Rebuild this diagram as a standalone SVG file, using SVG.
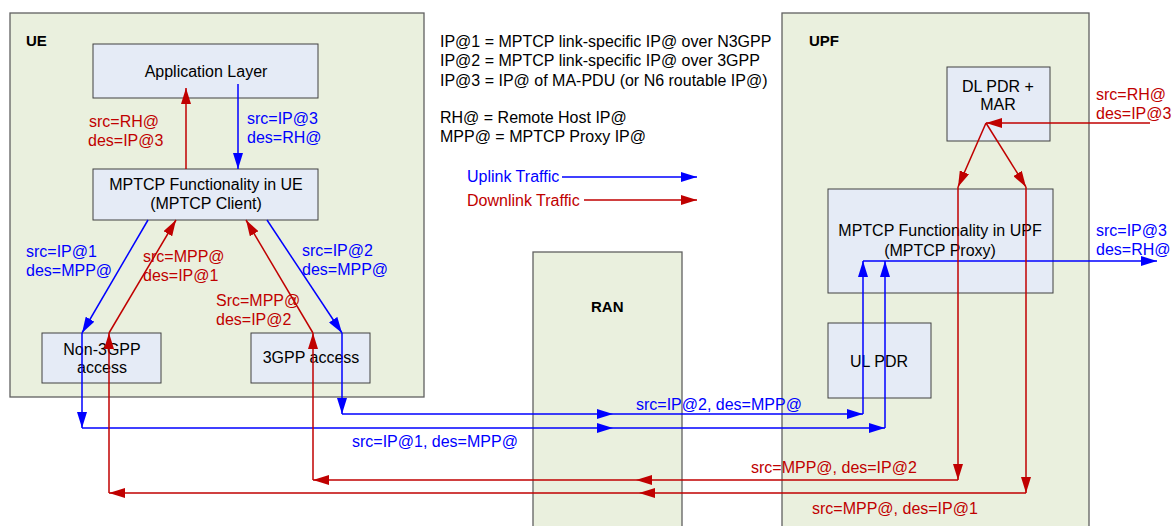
<svg xmlns="http://www.w3.org/2000/svg" width="1176" height="526" viewBox="0 0 1176 526">
<style>
text{font-family:"Liberation Sans",Arial,sans-serif;font-size:16px;}
.t{fill:#000;}
.b{fill:#0000FF;}
.r{fill:#C00000;}
.h{font-size:15px;font-weight:bold;fill:#000;}
.c{text-anchor:middle;}
.outer{fill:#EAF0DE;stroke:#606060;stroke-width:1.3;}
.inner{fill:#E5EBF6;stroke:#404040;stroke-width:1;}
.bl{stroke:#0000FF;stroke-width:1.5;fill:none;marker-end:url(#ab);}
.rl{stroke:#C00000;stroke-width:1.5;fill:none;marker-end:url(#ar);}
</style>
<defs>
<marker id="ab" markerUnits="userSpaceOnUse" markerWidth="16" markerHeight="10" refX="16" refY="5" orient="auto"><path d="M0,0 L16,5 L0,10 z" fill="#0000FF"/></marker>
<marker id="ar" markerUnits="userSpaceOnUse" markerWidth="16" markerHeight="10" refX="16" refY="5" orient="auto"><path d="M0,0 L16,5 L0,10 z" fill="#C00000"/></marker>
</defs>
<rect width="1176" height="526" fill="#fff"/>
<g id="ue">
<rect class="outer" x="10" y="13" width="414" height="384"/>
<text class="h" x="26" y="45.5">UE</text>
</g>
<g id="ran">
<rect class="outer" x="533" y="252" width="149" height="290"/>
<text class="h" x="591" y="311.5">RAN</text>
</g>
<g id="upf">
<rect class="outer" x="782" y="13" width="307" height="530"/>
<text class="h" x="809" y="45.5">UPF</text>
</g>
<g id="app">
<rect class="inner" x="93" y="44" width="225" height="54"/>
<text class="t c" x="206" y="76.7">Application Layer</text>
</g>
<g id="mptcp-ue">
<rect class="inner" x="93" y="169" width="225" height="51"/>
<text class="t c" x="206" y="189.7">MPTCP Functionality in UE</text>
<text class="t c" x="206" y="208.7">(MPTCP Client)</text>
</g>
<g id="non3gpp">
<rect class="inner" x="42" y="333" width="119" height="50"/>
<text class="t c" x="102" y="354.5">Non-3GPP</text>
<text class="t c" x="102" y="373">access</text>
</g>
<g id="gpp">
<rect class="inner" x="251" y="333" width="119" height="50"/>
<text class="t c" x="311" y="363">3GPP access</text>
</g>
<g id="dlpdr">
<rect class="inner" x="947" y="67" width="103" height="74"/>
<text class="t c" x="998" y="91.7">DL PDR +</text>
<text class="t c" x="998" y="109.7">MAR</text>
</g>
<g id="mptcp-upf">
<rect class="inner" x="828" y="189" width="225" height="104"/>
<text class="t c" x="940" y="235.7">MPTCP Functionality in UPF</text>
<text class="t c" x="940" y="255.7">(MPTCP Proxy)</text>
</g>
<g id="ulpdr">
<rect class="inner" x="828" y="323" width="103" height="75"/>
<text class="t c" x="879" y="366.7">UL PDR</text>
</g>
<g id="legend">
<text class="t" x="440" y="46.5">IP@1 = MPTCP link-specific IP@ over N3GPP</text>
<text class="t" x="440" y="66">IP@2 = MPTCP link-specific IP@ over 3GPP</text>
<text class="t" x="440" y="85.7">IP@3 = IP@ of MA-PDU (or N6 routable IP@)</text>
<text class="t" x="440" y="123.3">RH@ = Remote Host IP@</text>
<text class="t" x="440" y="142.3">MPP@ = MPTCP Proxy IP@</text>
<text class="b" x="467" y="182.3">Uplink Traffic</text>
<text class="r" x="467" y="205.7">Downlink Traffic</text>
</g>
<g id="connectors">
<line class="bl" x1="562" y1="177" x2="697" y2="177"/>
<line class="rl" x1="584" y1="200" x2="697" y2="200"/>
<line class="bl" x1="238" y1="84" x2="238" y2="169"/>
<line class="rl" x1="186" y1="169" x2="186" y2="88"/>
<line class="bl" x1="148" y1="220" x2="82" y2="333"/>
<line class="bl" x1="82" y1="333" x2="82" y2="428"/>
<line class="bl" x1="82" y1="428" x2="613" y2="428"/>
<line class="bl" x1="613" y1="428" x2="885" y2="428"/>
<line class="bl" x1="885" y1="428" x2="885" y2="261"/>
<line class="bl" x1="267" y1="220" x2="342" y2="333"/>
<line class="bl" x1="342" y1="333" x2="342" y2="414"/>
<line class="bl" x1="342" y1="414" x2="613" y2="414"/>
<line class="bl" x1="613" y1="414" x2="863" y2="414"/>
<line class="bl" x1="863" y1="414" x2="863" y2="261"/>
<line class="bl" x1="863" y1="261" x2="1157" y2="261"/>
<line class="rl" x1="1150" y1="123" x2="986" y2="123"/>
<line class="rl" x1="986" y1="123" x2="958" y2="187"/>
<line class="rl" x1="986" y1="123" x2="1026" y2="187"/>
<line class="rl" x1="958" y1="187" x2="958" y2="480"/>
<line class="rl" x1="958" y1="480" x2="636" y2="480"/>
<line class="rl" x1="636" y1="480" x2="313" y2="480"/>
<line class="rl" x1="313" y1="480" x2="313" y2="333"/>
<line class="rl" x1="313" y1="333" x2="246" y2="220"/>
<line class="rl" x1="1026" y1="187" x2="1026" y2="493"/>
<line class="rl" x1="1026" y1="493" x2="639" y2="493"/>
<line class="rl" x1="639" y1="493" x2="109" y2="493"/>
<line class="rl" x1="109" y1="493" x2="109" y2="333"/>
<line class="rl" x1="109" y1="333" x2="176" y2="220"/>
</g>
<g id="labels">
<text class="r" x="89" y="126.7">src=RH@</text>
<text class="r" x="88" y="145.7">des=IP@3</text>
<text class="b" x="247" y="124">src=IP@3</text>
<text class="b" x="247" y="143">des=RH@</text>
<text class="b" x="26" y="257.4">src=IP@1</text>
<text class="b" x="26" y="275.7">des=MPP@</text>
<text class="r" x="143" y="262.4">src=MPP@</text>
<text class="r" x="143" y="280.7">des=IP@1</text>
<text class="r" x="216" y="305.7">Src=MPP@</text>
<text class="r" x="216" y="324.7">des=IP@2</text>
<text class="b" x="302" y="256.4">src=IP@2</text>
<text class="b" x="302" y="274.7">des=MPP@</text>
<text class="r" x="1096" y="99.7">src=RH@</text>
<text class="r" x="1096" y="118.7">des=IP@3</text>
<text class="b" x="1096" y="236.4">src=IP@3</text>
<text class="b" x="1096" y="255">des=RH@</text>
<text class="b" x="636" y="409.5">src=IP@2, des=MPP@</text>
<text class="b" x="352" y="447.4">src=IP@1, des=MPP@</text>
<text class="r" x="751" y="472.7">src=MPP@, des=IP@2</text>
<text class="r" x="812" y="513.7">src=MPP@, des=IP@1</text>
</g>
</svg>
